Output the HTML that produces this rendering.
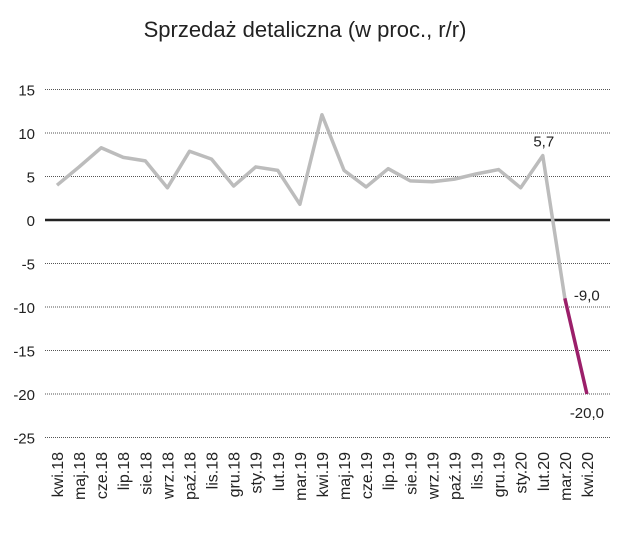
<!DOCTYPE html>
<html><head><meta charset="utf-8"><style>
body{margin:0;background:#fff;}
svg{display:block;font-family:"Liberation Sans",sans-serif;}
</style></head><body>
<svg width="630" height="534" viewBox="0 0 630 534">
<text x="305" y="37" text-anchor="middle" font-size="22" fill="#222">Sprzedaż detaliczna (w proc., r/r)</text>
<g id="grid"></g><g id="ylabels"></g><g id="xlabels"></g><g id="lines"></g><g id="annots"></g>
</svg>
<script>
const categories=["kwi.18","maj.18","cze.18","lip.18","sie.18","wrz.18","paź.18","lis.18","gru.18","sty.19","lut.19","mar.19","kwi.19","maj.19","cze.19","lip.19","sie.19","wrz.19","paź.19","lis.19","gru.19","sty.20","lut.20","mar.20","kwi.20"];
const values=[4.0,6.1,8.3,7.2,6.8,3.7,7.9,7.0,3.9,6.1,5.7,1.8,12.1,5.7,3.8,5.9,4.5,4.4,4.7,5.3,5.8,3.7,7.4,-9.0,-20.0];
const yTicks=[15,10,5,0,-5,-10,-15,-20,-25];
const annotations=[{i:22,text:"5,7",dx:1,dy:-9},{i:23,text:"-9,0",dx:22,dy:2},{i:24,text:"-20,0",dx:0,dy:24}];
const NS="http://www.w3.org/2000/svg";
const y=v=>220-v*8.7;
const x=i=>57+i*22.08;
function mk(tag,attrs,parent){const e=document.createElementNS(NS,tag);for(const k in attrs)e.setAttribute(k,attrs[k]);document.getElementById(parent).appendChild(e);return e;}
yTicks.forEach(t=>{
  const l=mk("line",{x1:45,x2:610,y1:y(t),y2:y(t),stroke:t===0?"#222":"#555","stroke-width":t===0?2.5:1,"stroke-dasharray":t===0?"":"1,1"},"grid");
  
  
  const tx=mk("text",{x:35,y:y(t)+6,"text-anchor":"end","font-size":15,fill:"#222"},"ylabels");
  tx.textContent=t;
  
  
});
categories.forEach((c,i)=>{
  const tx=mk("text",{x:0,y:0,"text-anchor":"end","font-size":16,fill:"#222",transform:`translate(${x(i)+6},452) rotate(-90)`},"xlabels");
  tx.textContent=c;
  
  
});
const n=values.length;
const gp=values.slice(0,n-1).map((v,i)=>x(i)+","+y(v)).join(" ");
const g=mk("polyline",{points:gp,fill:"none",stroke:"#bcbcbc","stroke-width":3.5,"stroke-linejoin":"round"},"lines");


const pp=[n-2,n-1].map(i=>x(i)+","+y(values[i])).join(" ");
const p=mk("polyline",{points:pp,fill:"none",stroke:"#9b1f6a","stroke-width":3.5},"lines");


annotations.forEach(a=>{
  const tx=mk("text",{x:x(a.i)+a.dx,y:y(values[a.i])+a.dy,"text-anchor":"middle","font-size":15,fill:"#222"},"annots");
  tx.textContent=a.text;
  
  
});
</script>
</body></html>
